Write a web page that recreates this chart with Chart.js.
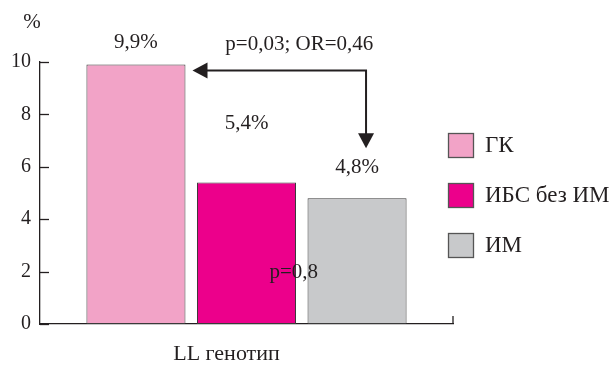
<!DOCTYPE html>
<html>
<head>
<meta charset="utf-8">
<script src="https://cdn.jsdelivr.net/npm/chart.js@4/dist/chart.umd.min.js"></script>
<style>
  html, body { margin: 0; padding: 0; background: #fff; }
  #wrap { width: 615px; height: 365px; }
</style>
</head>
<body>
<div id="wrap"><canvas id="chart" width="615" height="365"></canvas></div>
<script>
const categories = ["LL генотип"];
const seriesNames = ["ГК", "ИБС без ИМ", "ИМ"];
const seriesValues = [[9.9], [5.4], [4.8]];
const valueLabels = ["9,9%", "5,4%", "4,8%"];
const seriesColors = ["#f2a3c7", "#ec008b", "#c8c9cb"];
const yTicks = [0, 2, 4, 6, 8, 10];
const noteMain = "p=0,03; OR=0,46";
const noteSecond = "p=0,8";

const FONT = "'Liberation Serif'";
const INK = "#231f20";
Chart.defaults.font.family = FONT;

// extra lift of each value label above its bar (px)
const labelLift = [22, 59, 31];

const overlay = {
  id: "overlay",
  afterDraw(chart) {
    const ctx = chart.ctx;
    const y = chart.scales.y;
    const area = chart.chartArea;
    ctx.save();
    ctx.strokeStyle = INK;
    ctx.lineWidth = 1.3;

    // inner tick marks on the y axis
    yTicks.forEach(v => {
      const py = Math.round(y.getPixelForValue(v)) + 0.5;
      ctx.beginPath();
      ctx.moveTo(area.left, py);
      ctx.lineTo(area.left + 9, py);
      ctx.stroke();
    });
    // end tick of the x axis
    ctx.beginPath();
    ctx.moveTo(area.right, area.bottom);
    ctx.lineTo(area.right, area.bottom - 8);
    ctx.stroke();

    ctx.fillStyle = INK;
    ctx.font = "21px " + FONT;
    ctx.textAlign = "center";
    ctx.textBaseline = "middle";
    ctx.fillText("%", 32, 22);

    const bars = seriesValues.map((_, i) => chart.getDatasetMeta(i).data[0]);
    bars.forEach((b, i) => {
      ctx.fillText(valueLabels[i], b.x, b.y - labelLift[i]);
    });

    // arrow from ИМ to ГК
    const b0 = bars[0], b2 = bars[2];
    const ay = b0.y + 6;
    const tipX = b0.x + b0.width / 2 + 7;
    const vx = b2.x + 9;
    const tipY = b2.y - 50;
    ctx.lineWidth = 2;
    ctx.beginPath();
    ctx.moveTo(tipX + 12, ay);
    ctx.lineTo(vx, ay);
    ctx.lineTo(vx, tipY - 12);
    ctx.stroke();
    ctx.beginPath();
    ctx.moveTo(tipX, ay);
    ctx.lineTo(tipX + 15, ay - 8);
    ctx.lineTo(tipX + 15, ay + 8);
    ctx.closePath();
    ctx.fill();
    ctx.beginPath();
    ctx.moveTo(vx, tipY);
    ctx.lineTo(vx - 8, tipY - 15);
    ctx.lineTo(vx + 8, tipY - 15);
    ctx.closePath();
    ctx.fill();

    ctx.fillText(noteMain, (tipX + vx) / 2 + 20, ay - 26);
    ctx.fillText(noteSecond, (bars[1].x + b2.x) / 2 - 8, y.getPixelForValue(1.95));

    // legend
    ctx.textAlign = "left";
    ctx.lineWidth = 1.3;
    ctx.font = "23px " + FONT;
    seriesNames.forEach((name, i) => {
      const top = 133 + i * 50;
      ctx.fillStyle = seriesColors[i];
      ctx.fillRect(448, top, 26, 25);
      ctx.strokeStyle = "#555";
      ctx.strokeRect(448.5, top + 0.5, 25, 24);
      ctx.fillStyle = INK;
      ctx.fillText(name, 485, top + 13);
    });
    ctx.restore();
  }
};

new Chart(document.getElementById("chart"), {
  type: "bar",
  data: {
    labels: categories,
    datasets: seriesNames.map((name, i) => ({
      label: name,
      data: seriesValues[i],
      backgroundColor: seriesColors[i],
      borderColor: "#3a3a3a",
      borderWidth: 1,
      borderSkipped: false,
      categoryPercentage: 0.803,
      barPercentage: 0.896
    }))
  },
  options: {
    responsive: false,
    animation: false,
    layout: { padding: { top: 62, right: 162, left: 0, bottom: 0 } },
    plugins: { legend: { display: false }, tooltip: { enabled: false } },
    scales: {
      x: {
        grid: { display: false, drawTicks: false, tickLength: 0 },
        border: { color: INK, width: 1.3 },
        ticks: { color: INK, font: { family: FONT, size: 22 }, padding: 17, labelOffset: -20 },
        afterFit(s) { s.height = 41; }
      },
      y: {
        min: 0,
        max: 10,
        afterBuildTicks(s) { s.ticks = yTicks.map(v => ({ value: v })); },
        grid: { display: false, drawTicks: false, tickLength: 0 },
        border: { color: INK, width: 1.3 },
        ticks: { color: INK, font: { family: FONT, size: 20 }, padding: 9 },
        afterFit(s) { s.width = 40; }
      }
    }
  },
  plugins: [overlay]
});
</script>
</body>
</html>
